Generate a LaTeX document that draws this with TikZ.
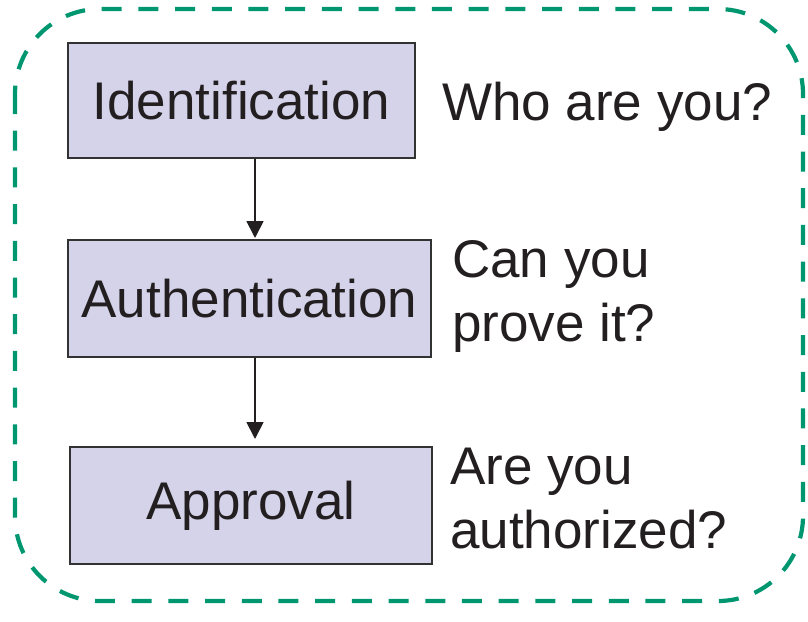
\documentclass[tikz,border=0pt]{standalone}
\usepackage{fontspec}
\setmainfont{Liberation Sans}
\usetikzlibrary{arrows.meta}
\definecolor{frameGreen}{RGB}{0,150,112}
\definecolor{boxFill}{RGB}{212,211,233}
\definecolor{inkDark}{RGB}{35,31,32}
\definecolor{edgeGray}{RGB}{50,50,50}
\tikzset{
  x=1pt, y=-1pt,
  stepbox/.style={draw=edgeGray, line width=1.8pt, fill=boxFill, rectangle,
    inner sep=0pt, text=inkDark, font=\fontsize{53}{63}\selectfont},
  question/.style={inner sep=0pt, text=inkDark, align=left,
    font=\fontsize{53}{64}\selectfont},
  flow/.style={draw=inkDark, line width=1.8pt,
    -{Triangle[width=17pt,length=17pt]}},
  frame/.style={draw=frameGreen, line width=4.2pt, rounded corners=85pt,
    dash pattern=on 20pt off 16.7pt}
}
\begin{document}
\begin{tikzpicture}
  \useasboundingbox (0,0) rectangle (808,621);
  % dashed outer frame
  \draw[frame] (15,9) rectangle (803,601);
  % process steps
  \node[stepbox, minimum width=347pt, minimum height=115pt] (ident) at (241.5,100.5) {Identification};
  \node[stepbox, minimum width=363pt, minimum height=117pt] (authn) at (249.5,298.5) {Authentication};
  \node[stepbox, minimum width=362pt, minimum height=117pt] (appr) at (251,505.5) {Approval};
  % questions beside each step (base anchor sits on the last line)
  \node[question, anchor=base west] (q1) at (442,120) {Who are you?};
  \node[question, anchor=base west] (q2) at (452,341) {Can you\\prove it?};
  \node[question, anchor=base west] (q3) at (450,548) {Are you\\authorized?};
  % flow arrows
  \draw[flow] (ident.south -| 255,0) -- (255,238);
  \draw[flow] (authn.south -| 255,0) -- (255,439);
\end{tikzpicture}
\end{document}
